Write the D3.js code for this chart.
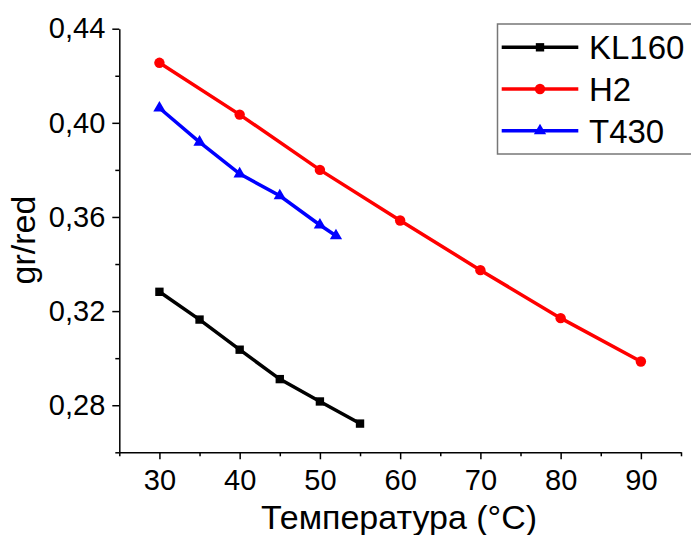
<!DOCTYPE html>
<html>
<head>
<meta charset="utf-8">
<script src="https://cdn.jsdelivr.net/npm/d3@7"></script>
<style>
  html, body { margin: 0; padding: 0; background: #fff; }
  svg { display: block; font-family: Arial, "Liberation Sans", sans-serif; }
</style>
</head>
<body>
<svg id="chart" width="691" height="535"></svg>
<script>
// Data
const klTemp = [30, 35, 40, 45, 50, 55];
const klValues = [0.3282, 0.3164, 0.3036, 0.2911, 0.2816, 0.2722];

const h2Temp = [30, 40, 50, 60, 70, 80, 90];
const h2Values = [0.4255, 0.4035, 0.3800, 0.3585, 0.3374, 0.3170, 0.2986];

const tTemp = [30, 35, 40, 45, 50, 52];
const tValues = [0.4063, 0.3918, 0.3783, 0.3690, 0.3566, 0.3520];

const xMajorTicks = [30, 40, 50, 60, 70, 80, 90];
const xMinorTicks = [25, 35, 45, 55, 65, 75, 85, 95];
const yMajorTicks = [0.28, 0.32, 0.36, 0.40, 0.44];
const yMinorTicks = [0.26, 0.30, 0.34, 0.38, 0.42];

const series = [
  { name: 'KL160', x: klTemp, y: klValues, color: '#000000', symbol: d3.symbolSquare, size: 70 },
  { name: 'H2', x: h2Temp, y: h2Values, color: '#ff0000', symbol: d3.symbolCircle, size: 85 },
  { name: 'T430', x: tTemp, y: tValues, color: '#0000ff', symbol: d3.symbolTriangle, size: 65 }
];

const svg = d3.select('#chart');
const margin = { left: 119.3, right: 681, top: 28.7, bottom: 452.3 };

const xScale = d3.scaleLinear().domain([25, 95]).range([margin.left, margin.right]);
const yScale = d3.scaleLinear().domain([0.26, 0.44]).range([margin.bottom, margin.top]);

const commaFormat = d3.formatLocale({ decimal: ',', thousands: ' ', grouping: [3], currency: ['', ''] }).format('.2f');

// Minor ticks first, then major axes on top
svg.append('g')
  .attr('transform', `translate(0,${margin.bottom})`)
  .call(d3.axisBottom(xScale).tickValues(xMinorTicks).tickSize(4).tickFormat(''))
  .call(g => g.select('.domain').remove());

svg.append('g')
  .attr('transform', `translate(${margin.left},0)`)
  .call(d3.axisLeft(yScale).tickValues(yMinorTicks).tickSize(4).tickFormat(''))
  .call(g => g.select('.domain').remove());

svg.append('g')
  .attr('transform', `translate(0,${margin.bottom})`)
  .call(d3.axisBottom(xScale).tickValues(xMajorTicks).tickSize(7).tickSizeOuter(0).tickPadding(10));

svg.append('g')
  .attr('transform', `translate(${margin.left},0)`)
  .call(d3.axisLeft(yScale).tickValues(yMajorTicks).tickSize(7).tickSizeOuter(0).tickPadding(7).tickFormat(commaFormat));

svg.selectAll('.tick line, .domain').attr('stroke', '#000').attr('stroke-width', 1.5);
svg.selectAll('.tick text').attr('font-size', 29).attr('font-family', 'Arial, "Liberation Sans", sans-serif').attr('fill', '#000');

// Axis titles
svg.append('text')
  .attr('x', 399)
  .attr('y', 529)
  .attr('text-anchor', 'middle')
  .attr('font-size', 34)
  .text('Температура (°C)');

svg.append('text')
  .attr('transform', 'translate(35,240) rotate(-90)')
  .attr('text-anchor', 'middle')
  .attr('font-size', 34)
  .text('gr/red');

// Lines and markers
const line = d3.line()
  .x(d => xScale(d[0]))
  .y(d => yScale(d[1]));

series.forEach(s => {
  const pts = s.x.map((x, i) => [x, s.y[i]]);
  svg.append('path')
    .datum(pts)
    .attr('d', line)
    .attr('fill', 'none')
    .attr('stroke', s.color)
    .attr('stroke-width', 3.5);

  svg.append('g')
    .selectAll('path')
    .data(pts)
    .join('path')
    .attr('d', d3.symbol().type(s.symbol).size(s.size))
    .attr('transform', d => `translate(${xScale(d[0])},${yScale(d[1])})`)
    .attr('fill', s.color);
});

// Legend
const legend = svg.append('g');
legend.append('rect')
  .attr('x', 497.5)
  .attr('y', 24)
  .attr('width', 220)
  .attr('height', 130)
  .attr('fill', '#fff')
  .attr('stroke', '#777')
  .attr('stroke-width', 1.5);

const rowY = [47.3, 89, 130.7];
series.forEach((s, i) => {
  const g = legend.append('g').attr('transform', `translate(0,${rowY[i]})`);
  g.append('line')
    .attr('x1', 501.7).attr('x2', 578.3)
    .attr('y1', 0).attr('y2', 0)
    .attr('stroke', s.color)
    .attr('stroke-width', 3.5);
  g.append('path')
    .attr('d', d3.symbol().type(s.symbol).size(s.size))
    .attr('transform', 'translate(540,0)')
    .attr('fill', s.color);
  g.append('text')
    .attr('x', 589)
    .attr('y', 12)
    .attr('font-size', 33)
    .text(s.name);
});
</script>
</body>
</html>
